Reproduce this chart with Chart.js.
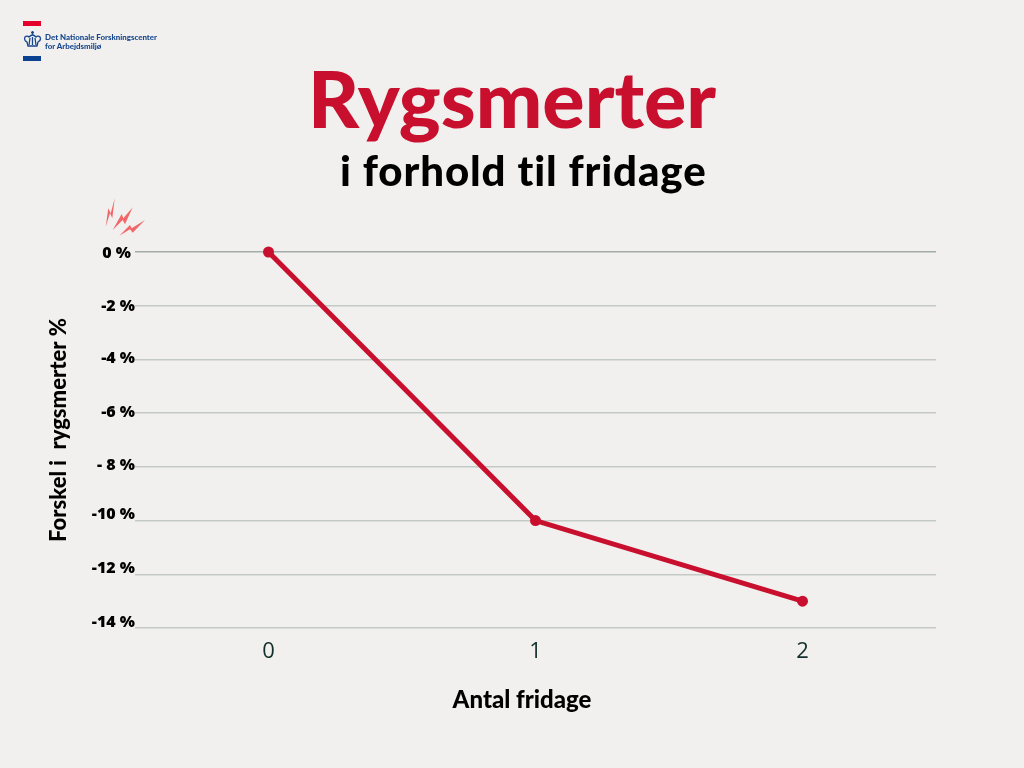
<!DOCTYPE html>
<html lang="da">
<head>
<meta charset="utf-8">
<title>Rygsmerter i forhold til fridage</title>
<script src="https://cdn.jsdelivr.net/npm/chart.js@4"></script>
<style>
  html, body { margin: 0; padding: 0; background: #f1f0ee; }
  #page { position: relative; width: 1024px; height: 768px; overflow: hidden; }
  #chart { position: absolute; left: 0; top: 0; }
  .title, .subtitle, .logo-text { position: absolute; margin: 0; white-space: nowrap; font-family: Lato, sans-serif; }
  .title { left: 0; width: 1024px; top: 52px; text-align: center; color: #c8102e; font-size: 79px; line-height: 92px; font-weight: 900; }
  .subtitle { left: 340px; top: 146px; color: #000; font-size: 42px; line-height: 48px; font-weight: 900; letter-spacing: 0.9px; }
  .logo-text { left: 45px; top: 33px; color: #17478e; font-size: 7.9px; line-height: 8.5px; font-weight: 900; }
  .bar { position: absolute; left: 23px; width: 18px; height: 5px; }
  svg { position: absolute; }
</style>
</head>
<body>
<div id="page">
  <canvas id="chart" width="1024" height="768"></canvas>
  <div class="bar" style="top:21px;background:#e4002b"></div>
  <div class="bar" style="top:56px;background:#0a4191"></div>
  <svg style="left:23px;top:30px" width="19" height="18" viewBox="0 0 19 18" fill="none" stroke="#17478e" stroke-width="1.3">
    <path d="M9.5 1v4M8 2.5h3"/>
    <path d="M5 16h9l1-4c2-1 3-3 2-5-1-1-3-1-4 0-1-1-2-2-3.500-2S7 6 6 7C5 6 3 6 2 7c-1 2 0 4 2 5z"/>
    <path d="M7 8l-1 7M12 8l1 7M9.500 7v8"/>
  </svg>
  <div class="logo-text">Det Nationale Forskningscenter<br>for Arbejdsmiljø</div>
  <svg style="left:104px;top:196px" width="44" height="42" viewBox="0 0 44 42" fill="#f2686a">
    <polygon points="1.700,30.700 4.300,12.300 6.700,17.300 10.700,2.300 8.300,22.300 6,17.300"/>
    <polygon points="8.700,34 17.700,18 19.300,22.300 28.700,11.300 21,28.300 18.700,24"/>
    <polygon points="15.300,39.700 26,29 27.700,32.300 41,24 28.700,36.700 26,33.300"/>
  </svg>
  <h1 class="title">Rygsmerter</h1>
  <h2 class="subtitle">i forhold til fridage</h2>
</div>
<script>
const days = ['0', '1', '2'];
const backPainDiff = [0, -10, -13];
const yTickValues = [0, -2, -4, -6, -8, -10, -12, -14];
const yTickLabels = ['0 %', '-2 %', '-4 %', '-6 %', '- 8 %', '-10 %', '-12 %', '-14 %'];
const xAxisTitle = 'Antal fridage';
const yAxisTitle = 'Forskel i  rygsmerter %';

const RED = '#c8102e';

// the tick labels in the reference do not sit evenly on their grid lines
const labelNudge = [1, 1, -1, -1, -1, -6, -6, -6];

// labels and axis titles are off-centre in the reference, so they are placed by hand
const axisTextPlugin = {
    id: 'axisText',
    afterDraw(chart) {
        const ctx = chart.ctx;
        const y = chart.scales.y;
        ctx.save();
        ctx.font = '800 16px "Open Sans"';
        ctx.fillStyle = '#000';
        ctx.textBaseline = 'middle';
        ctx.textAlign = 'right';
        yTickValues.forEach((v, i) => {
            const right = i === 0 ? 131 : 135;
            ctx.fillText(yTickLabels[i], right, y.getPixelForValue(v) + labelNudge[i]);
        });

        ctx.textAlign = 'center';
        ctx.font = '900 24px Lato';
        ctx.fillText(xAxisTitle, 522, 700);

        ctx.font = '900 22px Lato';
        ctx.translate(59, 430);
        ctx.rotate(-Math.PI / 2);
        ctx.fillText(yAxisTitle, 0, 0);
        ctx.restore();
    }
};

new Chart(document.getElementById('chart').getContext('2d'), {
    type: 'line',
    data: {
        labels: days,
        datasets: [{
            data: backPainDiff,
            borderColor: RED,
            backgroundColor: RED,
            borderWidth: 5,
            tension: 0,
            pointRadius: 5.5,
            pointBorderWidth: 0,
            pointHoverRadius: 5.5,
            clip: false
        }]
    },
    plugins: [axisTextPlugin],
    options: {
        responsive: false,
        animation: false,
        layout: { padding: { top: 252, right: 88, left: 0, bottom: 0 } },
        plugins: { legend: { display: false }, tooltip: { enabled: false } },
        scales: {
            x: {
                type: 'category',
                offset: true,
                afterFit: (scale) => { scale.height = 140; },
                border: { display: false },
                grid: { display: false, drawTicks: false },
                ticks: {
                    color: '#12302b',
                    padding: 11,
                    font: { family: '"Open Sans"', size: 22 },
                    maxRotation: 0
                }
            },
            y: {
                min: -14,
                max: 0,
                afterFit: (scale) => { scale.width = 135; },
                afterBuildTicks: (scale) => { scale.ticks = yTickValues.map((value) => ({ value })); },
                border: { display: false },
                grid: {
                    drawTicks: false,
                    lineWidth: 1.4,
                    color: (c) => (c.tick && c.tick.value === 0 ? '#a3aca9' : '#c3cac6')
                },
                ticks: { display: false }
            }
        }
    }
});
</script>
</body>
</html>
